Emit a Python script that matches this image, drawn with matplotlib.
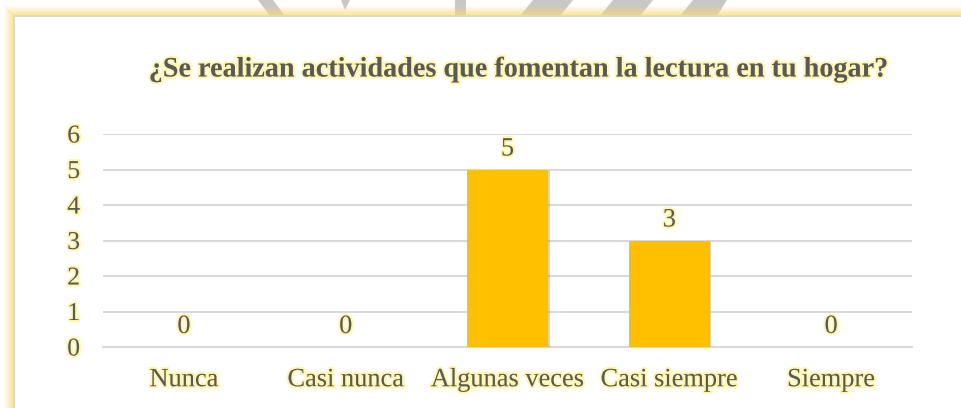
import matplotlib
matplotlib.use("Agg")
import matplotlib.pyplot as plt
import matplotlib.patheffects as pe
from matplotlib.patches import Rectangle, Polygon

categories = ["Nunca", "Casi nunca", "Algunas veces", "Casi siempre", "Siempre"]
values = [0, 0, 5, 3, 0]
yticks = [0, 1, 2, 3, 4, 5, 6]
title = "¿Se realizan actividades que fomentan la lectura en tu hogar?"

W, H = 961, 408
fig = plt.figure(figsize=(W / 100, H / 100), dpi=100)
fig.patch.set_facecolor("white")

def fx(x):
    return x / W

def fy(y):
    return 1 - y / H

# watermark shapes above the frame
wm = "#C8C8C8"
shapes = [
    [(258, 0), (273, 0), (285, 16), (270, 16)],
    [(341, 0), (350, 0), (345, 10)],
    [(455, 0), (466, 0), (466, 16), (455, 16)],
    [(533, 0), (573, 0), (560, 16), (520, 16)],
    [(613, 0), (653, 0), (640, 16), (600, 16)],
    [(693, 0), (727, 0), (717, 16), (680, 16)],
]
for s in shapes:
    fig.add_artist(Polygon([(fx(x), fy(y)) for x, y in s], closed=True,
                           transform=fig.transFigure, facecolor=wm,
                           edgecolor="none", zorder=0))

# yellow glow frame (left + top)
glow = "#FFD966"
for i in range(9):
    a = 0.08 + 0.07 * i
    fig.add_artist(Rectangle((fx(4 + i), 0), fx(1), fy(6 + i), transform=fig.transFigure,
                             facecolor=glow, edgecolor="none", alpha=a, zorder=1))
    fig.add_artist(Rectangle((fx(4 + i), fy(7 + i)), 1, 1 / H, transform=fig.transFigure,
                             facecolor=glow, edgecolor="none", alpha=a, zorder=1))
fig.add_artist(Rectangle((fx(13), 0), fx(1.5), fy(15), transform=fig.transFigure,
                         facecolor="#D9D9D9", edgecolor="none", zorder=2))
fig.add_artist(Rectangle((fx(13), fy(16.5)), 1, 1.5 / H, transform=fig.transFigure,
                         facecolor="#D9D9D9", edgecolor="none", zorder=2))

ax = fig.add_axes([fx(103), fy(347), fx(912) - fx(103), fy(134) - fy(347)])
ax.set_facecolor("none")

serif = ["Liberation Serif", "DejaVu Serif"]
txtc = "#595959"
glow_fx = [pe.withStroke(linewidth=3, foreground="#FFF59D", alpha=0.8)]

x = list(range(len(categories)))
ax.bar(x, values, width=0.5, color="#FFC000", zorder=3,
       path_effects=[pe.SimplePatchShadow(offset=(1.2, -1.2), shadow_rgbFace="#7F7F7F", alpha=0.35),
                     pe.Normal()])

ax.set_xlim(-0.5, len(categories) - 0.5)
ax.set_ylim(0, 6)
ax.set_yticks(yticks)
ax.yaxis.grid(True, color="#D9D9D9", linewidth=1.5, zorder=0)
ax.set_axisbelow(True)
for sp in ["top", "right", "left"]:
    ax.spines[sp].set_visible(False)
ax.spines["bottom"].set_color("#D9D9D9")
ax.spines["bottom"].set_linewidth(1.5)
ax.tick_params(length=0)
ax.tick_params(axis="y", pad=16.5)
ax.tick_params(axis="x", pad=16)
ax.set_xticks(x)
ax.set_xticklabels(categories)
for lab in ax.get_xticklabels():
    lab.set_fontfamily(serif)
    lab.set_fontsize(19)
    lab.set_color(txtc)
    lab.set_path_effects(glow_fx)
for lab in ax.get_yticklabels():
    lab.set_fontfamily(serif)
    lab.set_fontsize(18.5)
    lab.set_color(txtc)
    lab.set_path_effects(glow_fx)

for xi, v in zip(x, values):
    ax.annotate(str(v), (xi, v), xytext=(0, 6.5), textcoords="offset points",
                ha="center", va="bottom", fontsize=19, family=serif,
                color=txtc, path_effects=glow_fx, zorder=4)

fig.text(fx(520), fy(70), title, ha="center", va="center", fontsize=20.3,
         fontweight="bold", family=serif, color=txtc, path_effects=glow_fx)

fig.savefig("out.png", dpi=100, facecolor="white")
